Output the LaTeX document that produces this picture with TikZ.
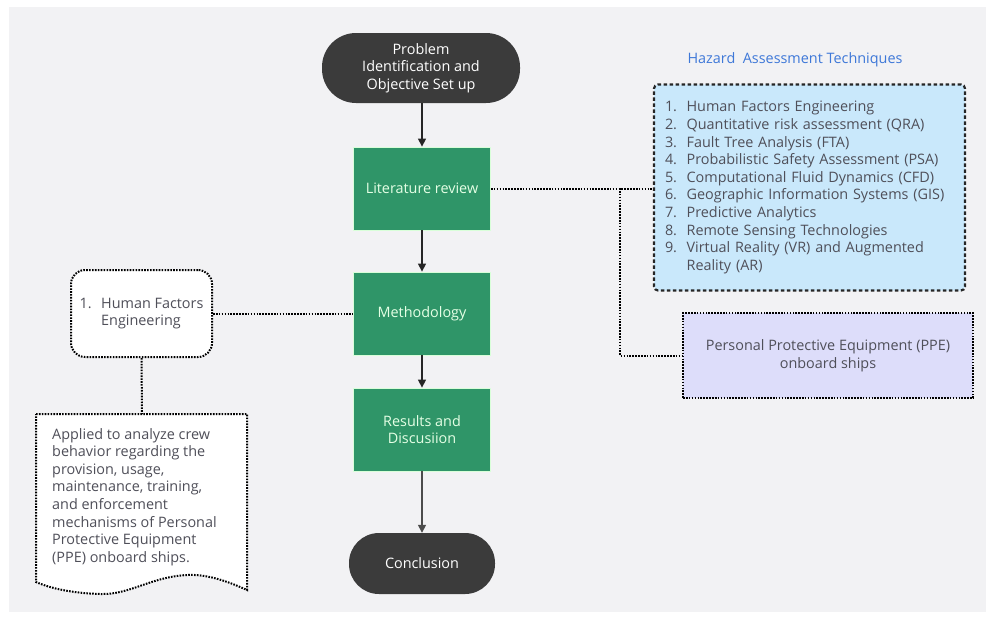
\documentclass[tikz,border=0pt]{standalone}
\usepackage{fontspec}
\setmainfont{Open Sans}
\usetikzlibrary{arrows.meta}
\definecolor{bgc}{HTML}{F2F2F4}
\definecolor{darkterm}{HTML}{3B3B3B}
\definecolor{greenbox}{HTML}{2F9568}
\definecolor{txtgrey}{HTML}{4F4F59}
\definecolor{bluefill}{HTML}{C9E8FB}
\definecolor{lavfill}{HTML}{DDDDFA}
\definecolor{titleblue}{HTML}{3E78D8}
\newcommand{\itm}[1]{\makebox[1.5em][l]{#1}}
\begin{document}
\begin{tikzpicture}[x=1pt,y=-1pt,
  every node/.style={font=\fontsize{14.4}{17.6}\selectfont, inner sep=0pt},
  term/.style={fill=darkterm, text=white, rounded corners=34pt, align=center},
  gbox/.style={fill=greenbox, draw=green!15, line width=0.8pt, text=green!10, align=center,
    minimum width=137pt, minimum height=83pt},
  arr/.style={-{Triangle[length=8pt,width=8pt]}, line width=1.4pt, draw=black!85},
  dotln/.style={dash pattern=on 1.6pt off 1.3pt, line width=2pt, draw=black},
  greytxt/.style={text=txtgrey}
]
\useasboundingbox (0,0) rectangle (995,619);
\fill[bgc] (9,7) rectangle (986,612);

% central flow
\node[term, minimum width=198pt, minimum height=70pt] (prob) at (421,68)
  {Problem\\Identification and\\Objective Set up};
\node[gbox] (lit) at (422,188.5) {Literature review};
\node[gbox] (meth) at (422,313.5) {Methodology};
\node[gbox] (res) at (422,429.5) {Results and\\Discusiion};
\node[term, minimum width=146pt, minimum height=61pt, rounded corners=30pt] (conc) at (422,563.5) {Conclusion};

\draw[arr] (prob.south -| lit.north) -- (lit.north);
\draw[arr] (lit) -- (meth);
\draw[arr] (meth) -- (res);
\draw[arr, draw=black!70] (res) -- (conc);

% right side
\node[text=titleblue] (title) at (795,60) {Hazard\ \ Assessment Techniques};
\node[fill=bluefill, draw=black!85, line width=2.2pt, dash pattern=on 3.5pt off 2.5pt,
  rounded corners=4pt, minimum width=311pt, minimum height=206pt,
  inner xsep=11pt, text width=289pt,
  text=txtgrey, align=left] (haz) at (809.5,187.5)
  {\itm{1.}Human Factors Engineering\\
   \itm{2.}Quantitative risk assessment (QRA)\\
   \itm{3.}Fault Tree Analysis (FTA)\\
   \itm{4.}Probabilistic Safety Assessment (PSA)\\
   \itm{5.}Computational Fluid Dynamics (CFD)\\
   \itm{6.}Geographic Information Systems (GIS)\\
   \itm{7.}Predictive Analytics\\
   \itm{8.}Remote Sensing Technologies\\
   \itm{9.}Virtual Reality (VR) and Augmented\\
   \itm{}Reality (AR)};
\node[fill=lavfill, dotln, minimum width=290pt, minimum height=85pt,
  text=txtgrey, align=center] (ppe) at (828,355.5)
  {Personal Protective Equipment (PPE)\\onboard ships};
\coordinate (br) at (620,188);
\draw[dotln] (lit.east) -- (lit.east -| haz.west);
\draw[dotln] (br) |- (ppe.west);

% left side
\node[fill=white, dotln, rounded corners=14pt, minimum width=141pt,
  minimum height=87pt, text=txtgrey, align=left] (hfe) at (141.5,313.5)
  {\itm{1.}Human Factors\\\itm{}Engineering};
\draw[dotln] (hfe.east) -- (meth.west);

\coordinate (doctop) at (142,414);
\fill[white] (36,414) -- (247,414) -- (247,590)
  .. controls (225,580) and (205,574) .. (187,575)
  .. controls (150,577) and (130,595) .. (100,594)
  .. controls (70,593) and (50,588) .. (36,582) -- cycle;
\draw[dotln] (36,414) -- (247,414) -- (247,590)
  .. controls (225,580) and (205,574) .. (187,575)
  .. controls (150,577) and (130,595) .. (100,594)
  .. controls (70,593) and (50,588) .. (36,582) -- cycle;
\node[text=txtgrey, align=left, anchor=north west] (doc) at (52,428)
  {Applied to analyze crew\\behavior regarding the\\provision, usage,\\maintenance, training,\\and enforcement\\mechanisms of Personal\\Protective Equipment\\(PPE) onboard ships.};
\draw[dotln] (hfe.south) -- (doctop);
\end{tikzpicture}
\end{document}
